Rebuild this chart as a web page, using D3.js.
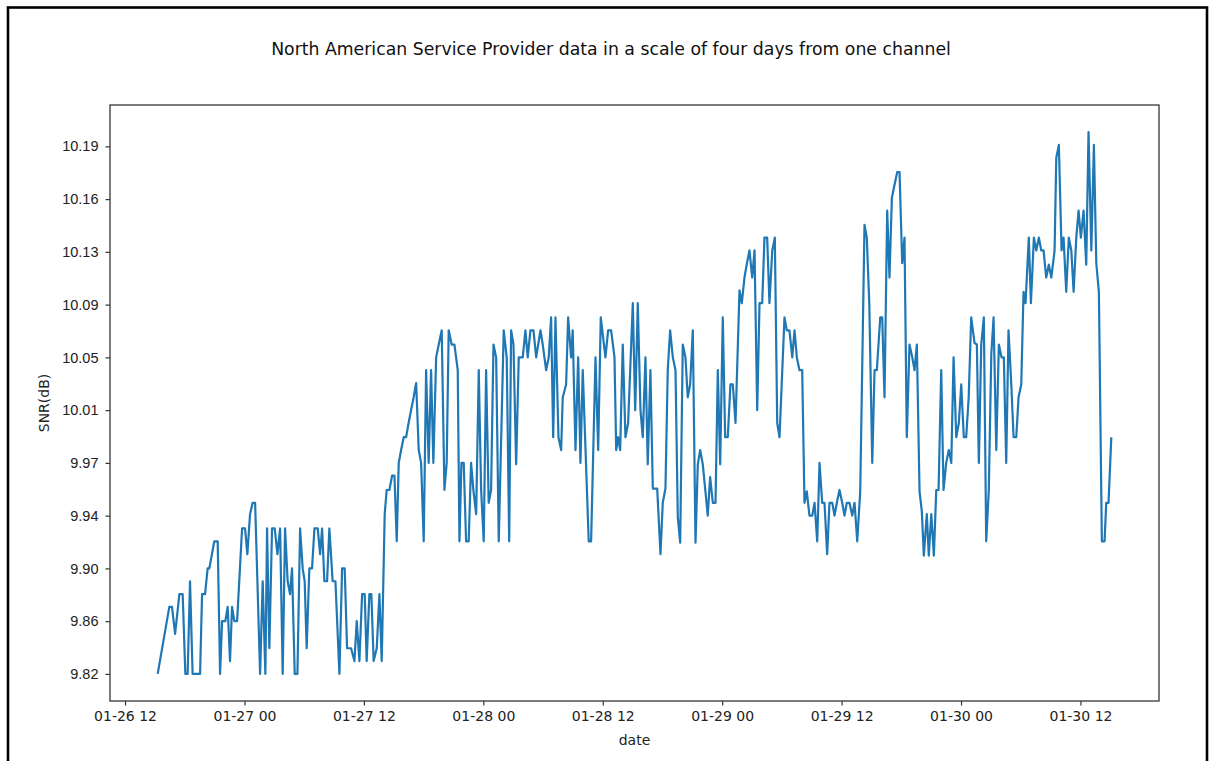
<!DOCTYPE html>
<html>
<head>
<meta charset="utf-8">
<script src="https://cdn.jsdelivr.net/npm/d3@7"></script>
<style>
  html, body { margin: 0; padding: 0; background: #fff; }
  svg { display: block; }
  .tick text { fill: #222; }
</style>
</head>
<body>
<svg id="chart" width="1211" height="761"></svg>
<script>
// SNR readings of one channel, hours counted from 01-26 00:00
const hours = [
  15.28, 16.45, 16.72, 17.03, 17.46, 17.79, 18.06, 18.29, 18.53, 18.79, 19.54, 19.74, 20.04, 20.30, 20.47,
  20.97, 21.31, 21.55, 21.75, 22.08, 22.31, 22.55, 22.75, 22.98, 23.26, 23.76, 24.06, 24.29, 24.56, 24.82,
  25.07, 25.57, 25.83, 26.10, 26.27, 26.50, 26.77, 27.04, 27.31, 27.58, 27.84, 28.08, 28.34, 28.58, 28.78,
  29.05, 29.32, 29.59, 29.85, 30.05, 30.25, 30.52, 30.79, 31.03, 31.36, 31.60, 31.80, 32.03, 32.30, 32.53,
  32.86, 33.14, 33.54, 33.81, 34.07, 34.31, 34.71, 35.05, 35.28, 35.55, 35.82, 36.08, 36.28, 36.55, 36.75,
  36.98, 37.29, 37.56, 37.79, 38.09, 38.29, 38.56, 38.83, 39.07, 39.30, 39.50, 39.74, 40.00, 40.24, 40.49,
  40.74, 41.00, 41.25, 41.51, 41.75, 42.01, 42.25, 42.51, 42.75, 42.98, 43.26, 43.52, 43.82, 44.09, 44.32,
  44.52, 44.82, 45.10, 45.43, 45.60, 45.80, 46.03, 46.27, 46.53, 46.77, 47.00, 47.28, 47.54, 47.78, 48.04,
  48.28, 48.54, 48.78, 49.02, 49.29, 49.55, 50.05, 50.35, 50.60, 50.79, 51.03, 51.30, 51.56, 51.96, 52.23,
  52.46, 52.73, 53.04, 53.31, 53.74, 53.97, 54.31, 54.57, 54.81, 55.02, 55.25, 55.55, 55.82, 55.98, 56.32,
  56.52, 56.82, 56.98, 57.26, 57.53, 57.76, 57.99, 58.59, 58.83, 59.27, 59.54, 59.80, 60.27, 60.54, 60.84,
  61.18, 61.35, 61.55, 61.75, 62.01, 62.28, 62.55, 63.02, 63.26, 63.52, 63.79, 64.02, 64.29, 64.52, 64.79,
  65.03, 65.47, 65.80, 66.03, 66.30, 66.53, 66.77, 67.04, 67.31, 67.54, 67.78, 68.04, 68.31, 68.54, 68.78,
  69.05, 69.32, 69.55, 69.79, 70.05, 70.29, 70.55, 70.79, 71.06, 71.33, 71.56, 71.80, 72.06, 72.30, 72.56,
  72.83, 73.07, 73.34, 73.74, 73.97, 74.24, 74.49, 74.74, 75.02, 75.25, 75.52, 75.75, 76.02, 76.25, 76.52,
  76.75, 77.03, 77.29, 77.53, 77.76, 78.26, 78.49, 78.76, 79.04, 79.27, 79.50, 79.77, 80.04, 80.27, 80.50,
  80.77, 81.05, 81.28, 81.55, 81.78, 82.05, 82.28, 82.55, 82.78, 83.06, 83.29, 83.52, 83.79, 84.06, 84.29,
  84.52, 84.79, 85.07, 85.30, 85.57, 85.87, 86.30, 86.53, 86.78, 87.08, 87.31, 87.54, 87.88, 88.08, 88.31,
  88.58, 88.81, 89.05, 89.32, 89.59, 89.82, 90.09, 90.32, 90.55, 90.82, 91.10, 91.33, 91.56, 91.83, 92.06,
  92.26, 92.56, 92.76, 93.01, 93.27, 93.51, 93.74, 94.01, 94.24, 94.51, 94.77, 95.02, 95.25, 95.52, 95.78,
  96.02, 96.28, 96.52, 96.77, 97.02, 97.36, 97.59, 97.79, 98.03, 98.29, 98.53, 98.79, 99.04, 99.27, 99.54,
  99.80, 100.07, 100.30, 100.54, 100.77, 101.05, 101.28, 101.55, 101.78, 102.05, 102.28, 102.48, 102.81, 103.02, 103.32,
  103.56, 103.82, 104.06, 104.29, 104.56, 104.82, 105.07, 105.40, 105.57, 105.83, 106.10, 106.30, 106.57, 106.83, 107.08,
  107.31, 107.58, 107.81, 108.04, 108.31, 108.58, 108.81, 109.09, 109.35, 109.59, 109.85, 110.15, 110.42, 110.59, 110.82,
  111.10
];

const snr = [
  9.820, 9.867, 9.867, 9.848, 9.876, 9.876, 9.820, 9.820, 9.885, 9.820, 9.820, 9.876, 9.876, 9.894, 9.894,
  9.913, 9.913, 9.820, 9.857, 9.857, 9.867, 9.829, 9.867, 9.857, 9.857, 9.922, 9.922, 9.904, 9.932, 9.940,
  9.940, 9.820, 9.885, 9.820, 9.922, 9.838, 9.922, 9.922, 9.904, 9.922, 9.820, 9.922, 9.885, 9.876, 9.894,
  9.820, 9.820, 9.922, 9.894, 9.885, 9.838, 9.894, 9.894, 9.922, 9.922, 9.904, 9.922, 9.885, 9.885, 9.922,
  9.885, 9.885, 9.820, 9.894, 9.894, 9.838, 9.838, 9.829, 9.857, 9.829, 9.876, 9.876, 9.829, 9.876, 9.876,
  9.829, 9.838, 9.876, 9.829, 9.932, 9.949, 9.949, 9.959, 9.959, 9.913, 9.968, 9.977, 9.986, 9.986, 9.996,
  10.005, 10.014, 10.024, 9.977, 9.968, 9.913, 10.033, 9.968, 10.033, 9.968, 10.042, 10.051, 10.061, 9.949, 9.968,
  10.061, 10.051, 10.051, 10.033, 9.913, 9.968, 9.968, 9.913, 9.913, 9.968, 9.949, 9.932, 10.033, 9.949, 9.913,
  10.033, 9.940, 9.949, 10.051, 10.042, 9.913, 10.061, 10.042, 9.913, 10.061, 10.051, 9.967, 10.042, 10.042, 10.061,
  10.042, 10.061, 10.061, 10.042, 10.061, 10.051, 10.033, 10.042, 10.070, 9.986, 10.070, 9.986, 9.977, 10.014, 10.023,
  10.070, 10.042, 10.061, 9.977, 10.042, 9.968, 10.033, 9.913, 9.913, 10.042, 9.977, 10.070, 10.042, 10.061, 10.061,
  10.042, 9.977, 9.986, 9.977, 10.051, 9.986, 9.996, 10.080, 10.005, 10.080, 10.005, 9.986, 10.042, 9.967, 10.033,
  9.950, 9.950, 9.904, 9.940, 9.950, 10.033, 10.061, 10.042, 10.033, 9.930, 9.912, 10.051, 10.042, 10.014, 10.023,
  10.061, 9.912, 9.967, 9.977, 9.967, 9.950, 9.931, 9.958, 9.940, 9.940, 10.033, 9.967, 10.070, 9.986, 9.986,
  10.023, 10.023, 9.996, 10.089, 10.080, 10.098, 10.108, 10.117, 10.098, 10.117, 10.005, 10.080, 10.080, 10.126, 10.126,
  10.080, 10.117, 10.126, 9.996, 9.986, 10.070, 10.061, 10.061, 10.042, 10.061, 10.042, 10.033, 10.033, 9.940, 9.948,
  9.931, 9.931, 9.940, 9.913, 9.968, 9.940, 9.940, 9.904, 9.940, 9.940, 9.931, 9.940, 9.949, 9.940, 9.931,
  9.940, 9.940, 9.931, 9.940, 9.913, 9.948, 10.135, 10.126, 10.080, 9.968, 10.033, 10.033, 10.070, 10.070, 10.014,
  10.145, 10.098, 10.154, 10.163, 10.172, 10.172, 10.108, 10.126, 9.986, 10.051, 10.042, 10.033, 10.051, 9.948, 9.934,
  9.903, 9.932, 9.903, 9.932, 9.903, 9.949, 9.949, 10.033, 9.949, 9.968, 9.977, 9.968, 10.042, 9.986, 9.996,
  10.023, 9.986, 9.986, 10.014, 10.070, 10.052, 10.051, 9.968, 10.051, 10.070, 9.913, 9.949, 10.044, 10.070, 9.977,
  10.051, 10.042, 10.042, 9.968, 10.061, 10.023, 9.986, 9.986, 10.014, 10.023, 10.088, 10.080, 10.126, 10.080, 10.126,
  10.117, 10.126, 10.117, 10.117, 10.098, 10.107, 10.098, 10.117, 10.182, 10.191, 10.117, 10.126, 10.088, 10.126, 10.117,
  10.088, 10.126, 10.145, 10.126, 10.145, 10.107, 10.200, 10.117, 10.191, 10.108, 10.088, 9.913, 9.913, 9.940, 9.940,
  9.986
];

const yTickLabels = ["9.82", "9.86", "9.90", "9.94", "9.97", "10.01", "10.05", "10.09", "10.13", "10.16", "10.19"];

const titleText = "North American Service Provider data in a scale of four days from one channel";
const xLabel = "date";
const yLabel = "SNR(dB)";

const dayZero = new Date(2021, 0, 26, 0, 0, 0);
const points = hours.map((h, i) => ({
  t: new Date(dayZero.getTime() + h * 3600 * 1000),
  v: snr[i]
}));

const svg = d3.select("#chart");
const W = 1211, H = 761;
const plot = { left: 110, right: 1159, top: 105, bottom: 701 };

svg.append("rect").attr("width", W).attr("height", H).attr("fill", "#fff");

// outer frame of the figure
svg.append("rect")
  .attr("x", 8).attr("y", 7.5)
  .attr("width", 1199).attr("height", 780)
  .attr("fill", "none").attr("stroke", "#000").attr("stroke-width", 2.6);

// scales with 5% padding on both sides of the data, like the plotting default
const tExt = d3.extent(points, d => d.t);
const tPad = (tExt[1] - tExt[0]) * 0.05;
const x = d3.scaleTime()
  .domain([new Date(+tExt[0] - tPad), new Date(+tExt[1] + tPad)])
  .range([plot.left, plot.right]);

const vExt = d3.extent(snr);
const vPad = (vExt[1] - vExt[0]) * 0.05;
const y = d3.scaleLinear()
  .domain([vExt[0] - vPad, vExt[1] + vPad])
  .range([plot.bottom, plot.top]);

const yFirst = +yTickLabels[0], yLast = +yTickLabels[yTickLabels.length - 1];
const yTickValues = yTickLabels.map((_, i) => yFirst + i * (yLast - yFirst) / (yTickLabels.length - 1));

// x axis
const xAxis = d3.axisBottom(x)
  .ticks(d3.timeHour.every(12))
  .tickFormat(d3.timeFormat("%m-%d %H"))
  .tickSize(4.5)
  .tickPadding(6);
const gx = svg.append("g")
  .attr("transform", `translate(0,${plot.bottom})`)
  .call(xAxis);
gx.select(".domain").remove();
gx.selectAll(".tick line").attr("stroke", "#333").attr("stroke-width", 1.2);
gx.selectAll(".tick text")
  .attr("font-family", "DejaVu Sans, sans-serif")
  .attr("font-size", 14);

// y axis
const yAxis = d3.axisLeft(y)
  .tickValues(yTickValues)
  .tickFormat((d, i) => yTickLabels[i])
  .tickSize(4.5)
  .tickPadding(7);
const gy = svg.append("g")
  .attr("transform", `translate(${plot.left},0)`)
  .call(yAxis);
gy.select(".domain").remove();
gy.selectAll(".tick line").attr("stroke", "#333").attr("stroke-width", 1.2);
gy.selectAll(".tick text")
  .attr("font-family", "Liberation Sans, Arial, sans-serif")
  .attr("font-size", 14.5);

// the series
const clipId = "plot-clip";
svg.append("clipPath").attr("id", clipId)
  .append("rect")
  .attr("x", plot.left).attr("y", plot.top)
  .attr("width", plot.right - plot.left).attr("height", plot.bottom - plot.top);

svg.append("path")
  .datum(points)
  .attr("clip-path", `url(#${clipId})`)
  .attr("fill", "none")
  .attr("stroke", "#1f77b4")
  .attr("stroke-width", 2.2)
  .attr("stroke-linejoin", "round")
  .attr("stroke-linecap", "butt")
  .attr("d", d3.line().x(d => x(d.t)).y(d => y(d.v)));

// axes frame
svg.append("rect")
  .attr("x", plot.left).attr("y", plot.top)
  .attr("width", plot.right - plot.left).attr("height", plot.bottom - plot.top)
  .attr("fill", "none").attr("stroke", "#444").attr("stroke-width", 1.4);

// labels
svg.append("text")
  .attr("x", 611).attr("y", 55)
  .attr("text-anchor", "middle")
  .attr("font-family", "DejaVu Sans, sans-serif")
  .attr("font-size", 17.3)
  .attr("fill", "#111")
  .text(titleText);

svg.append("text")
  .attr("x", (plot.left + plot.right) / 2).attr("y", 745)
  .attr("text-anchor", "middle")
  .attr("font-family", "DejaVu Sans, sans-serif")
  .attr("font-size", 14)
  .attr("fill", "#222")
  .text(xLabel);

svg.append("text")
  .attr("transform", `translate(49,${(plot.top + plot.bottom) / 2}) rotate(-90)`)
  .attr("text-anchor", "middle")
  .attr("font-family", "DejaVu Sans, sans-serif")
  .attr("font-size", 14)
  .attr("fill", "#222")
  .text(yLabel);
</script>
</body>
</html>
